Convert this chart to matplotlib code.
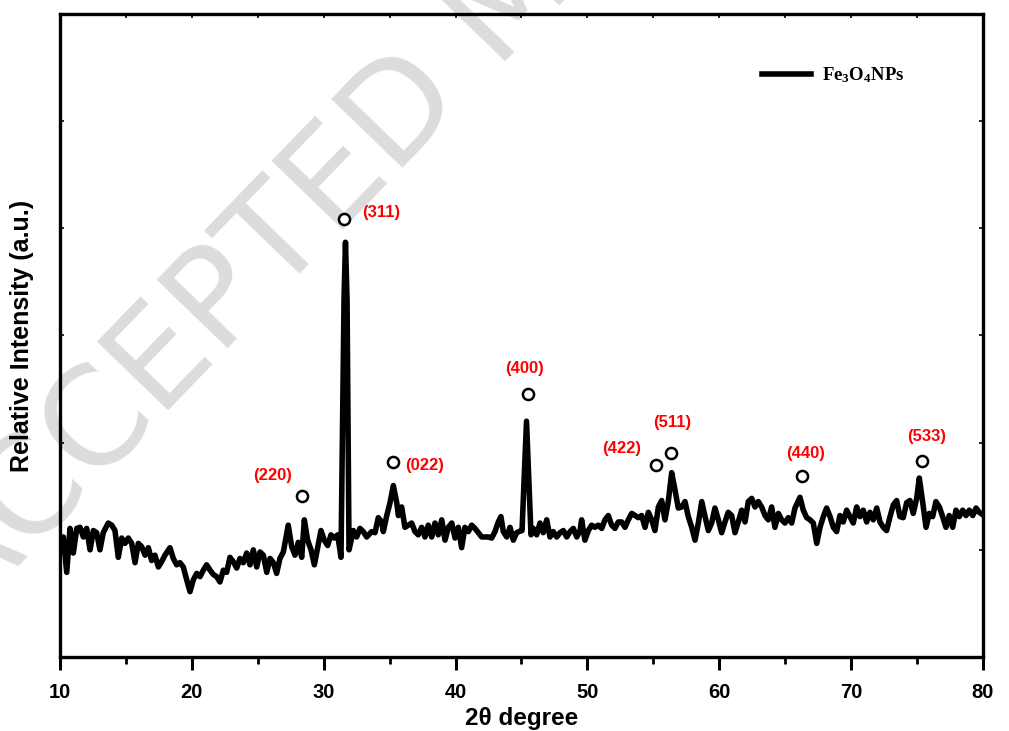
import matplotlib
matplotlib.use("Agg")
import matplotlib.pyplot as plt
from matplotlib.ticker import MultipleLocator

# ---------------- data ----------------
two_theta = [10.00, 10.25, 10.51, 10.76, 11.01, 11.27, 11.52, 11.77, 12.02, 12.28, 12.53, 12.78, 13.03, 13.28,
             13.66, 13.92, 14.17, 14.42, 14.68, 14.93, 15.18, 15.44, 15.69, 15.94, 16.19, 16.45, 16.70, 16.95,
             17.20, 17.46, 17.71, 17.96, 18.34, 18.59, 18.85, 19.10, 19.35, 19.61, 19.86, 20.11, 20.37, 20.62,
             20.87, 21.12, 21.38, 21.63, 21.88, 22.13, 22.39, 22.64, 22.89, 23.14, 23.40, 23.65, 23.90, 24.16,
             24.41, 24.66, 24.92, 25.17, 25.42, 25.68, 25.93, 26.18, 26.43, 26.68, 26.94, 27.31, 27.57, 27.82,
             28.07, 28.33, 28.53, 28.78, 29.04, 29.29, 29.54, 29.79, 30.04, 30.30, 30.55, 30.80, 31.06, 31.31,
             31.54, 31.65, 31.77, 31.92, 32.25, 32.50, 32.75, 33.00, 33.26, 33.64, 33.89, 34.14, 34.40, 34.52,
             34.78, 35.03, 35.28, 35.54, 35.66, 35.91, 36.16, 36.42, 36.67, 36.92, 37.17, 37.43, 37.68, 37.93,
             38.19, 38.44, 38.69, 38.95, 39.20, 39.45, 39.71, 39.96, 40.21, 40.46, 40.71, 40.97, 41.22, 41.47,
             41.72, 41.98, 42.23, 42.48, 42.74, 42.99, 43.24, 43.44, 43.62, 43.88, 44.13, 44.38, 44.63, 44.81,
             45.04, 45.23, 45.38, 45.53, 45.72, 45.89, 46.15, 46.40, 46.65, 46.91, 47.16, 47.41, 47.67, 47.92,
             48.17, 48.43, 48.68, 48.93, 49.19, 49.44, 49.56, 49.81, 50.07, 50.32, 50.57, 50.82, 51.08, 51.33,
             51.58, 51.84, 52.09, 52.34, 52.60, 52.85, 53.10, 53.36, 53.61, 53.86, 54.11, 54.37, 54.62, 54.87,
             55.12, 55.38, 55.63, 55.88, 56.13, 56.39, 56.64, 56.89, 57.15, 57.40, 57.65, 57.91, 58.16, 58.41,
             58.67, 58.92, 59.17, 59.42, 59.67, 59.93, 60.18, 60.43, 60.68, 60.94, 61.19, 61.44, 61.70, 61.95,
             62.20, 62.46, 62.71, 62.96, 63.21, 63.47, 63.72, 63.97, 64.22, 64.48, 64.73, 64.98, 65.23, 65.49,
             65.74, 66.12, 66.37, 66.63, 66.88, 67.13, 67.39, 67.64, 67.89, 68.14, 68.40, 68.65, 68.90, 69.15,
             69.40, 69.66, 69.91, 70.16, 70.42, 70.67, 70.92, 71.18, 71.43, 71.68, 71.94, 72.19, 72.44, 72.69,
             72.95, 73.20, 73.45, 73.70, 73.95, 74.21, 74.46, 74.71, 74.97, 75.17, 75.43, 75.68, 75.93, 76.18,
             76.43, 76.69, 76.94, 77.19, 77.44, 77.70, 77.95, 78.20, 78.46, 78.71, 78.96, 79.22, 79.47, 79.72,
             79.95]
intensity = [103, 112, 79, 120, 97, 120, 121, 112, 120, 100, 118, 116, 100, 116,
             125, 123, 118, 93, 111, 106, 111, 106, 88, 106, 103, 95, 102, 90,
             95, 84, 89, 95, 102, 92, 86, 88, 84, 72, 61, 72, 78, 75,
             81, 86, 81, 77, 75, 70, 81, 79, 93, 89, 83, 92, 88, 97,
             86, 100, 84, 98, 95, 79, 92, 88, 78, 92, 98, 123, 103, 95,
             107, 93, 128, 109, 100, 86, 102, 118, 109, 104, 114, 111, 114, 93,
             333, 387, 333, 100, 118, 112, 120, 117, 112, 117, 116, 130, 126, 117,
             132, 144, 160, 144, 132, 140, 121, 123, 125, 117, 114, 121, 112, 123,
             112, 125, 114, 128, 109, 121, 125, 111, 121, 102, 121, 117, 123, 120,
             116, 112, 112, 112, 111, 117, 126, 131, 117, 112, 121, 109, 116, 117,
             118, 174, 220, 174, 114, 120, 114, 125, 116, 128, 112, 117, 112, 116,
             118, 112, 117, 120, 112, 118, 128, 109, 118, 123, 121, 123, 120, 128,
             132, 123, 120, 126, 126, 121, 128, 134, 132, 130, 132, 121, 135, 128,
             118, 140, 146, 128, 145, 172, 156, 139, 140, 145, 131, 121, 109, 125,
             145, 131, 118, 125, 139, 128, 116, 126, 135, 132, 116, 126, 137, 126,
             145, 148, 140, 145, 140, 132, 128, 140, 121, 134, 128, 125, 130, 125,
             139, 149, 137, 130, 128, 125, 106, 121, 131, 139, 131, 121, 117, 132,
             126, 137, 131, 125, 140, 131, 137, 126, 135, 128, 139, 126, 121, 118,
             131, 142, 146, 131, 130, 144, 146, 134, 148, 167, 144, 121, 134, 131,
             145, 140, 131, 121, 132, 121, 137, 131, 137, 132, 137, 132, 139, 135,
             133]

# peak markers (open circles) and Miller index labels
marker_x = [31.54, 28.35, 35.25, 45.49, 55.20, 56.34, 66.27, 75.37]
marker_y = [409, 150, 182, 245, 179, 190, 169, 183]
hkl_labels = ["(311)", "(220)", "(022)", "(400)", "(422)", "(511)", "(440)", "(533)"]
label_x = [34.34, 26.15, 37.68, 45.19, 52.62, 56.41, 66.58, 75.75]
label_y = [415, 169, 179, 269, 195, 219, 190, 206]

x_ticks = [10, 20, 30, 40, 50, 60, 70, 80]

# ---------------- style ----------------
plt.rcParams['font.family'] = ['Liberation Sans', 'DejaVu Sans']
plt.rcParams['font.weight'] = 'bold'
plt.rcParams['mathtext.fontset'] = 'custom'
plt.rcParams['mathtext.rm'] = 'Liberation Serif:bold'
plt.rcParams['mathtext.bf'] = 'Liberation Serif:bold'
plt.rcParams['mathtext.it'] = 'Liberation Serif:bold'

fig = plt.figure(figsize=(10.09, 7.31), dpi=100)
ax = fig.add_axes([60/1009, 1-657/731, 923/1009, 643/731])
ax.patch.set_facecolor('none')
ax.set_zorder(1)

# watermark
fig.text(-0.035, 0.15, "ACCEPTED MANUSCRIPT", rotation=46, rotation_mode='anchor',
         ha='left', va='baseline', fontsize=98, color='#dcdcdc', fontweight='normal',
         family='DejaVu Sans', zorder=0)

ax.plot(two_theta, intensity, color='black', lw=4.0, solid_joinstyle='round',
        label=r'Fe$_{3}$O$_{4}$NPs')
ax.plot(marker_x, marker_y, linestyle='none', marker='o', markersize=8,
        markerfacecolor='white', markeredgecolor='black', markeredgewidth=1.8)
for t, lx, ly in zip(hkl_labels, label_x, label_y):
    ax.text(lx, ly, t, color='red', fontsize=12, fontweight='bold',
            ha='center', va='center')

ax.set_xlim(10, 80)
ax.set_ylim(0, 600)
ax.set_xticks(x_ticks)
ax.xaxis.set_minor_locator(MultipleLocator(5))
ax.yaxis.set_major_locator(MultipleLocator(100))
ax.set_yticklabels([])
ax.tick_params(axis='x', which='major', direction='out', length=9, width=2.2,
               labelsize=14.5, pad=10, top=False)
ax.tick_params(axis='x', which='minor', direction='out', length=5, width=2.0, top=False)
ax.tick_params(axis='y', which='major', direction='in', length=3, width=1.2,
               left=True, right=True, labelleft=False)
# top spine small inward ticks
secx = ax.secondary_xaxis('top')
secx.set_xticks([15, 20, 25, 30, 35, 40, 45, 50, 55, 60, 65, 70, 75])
secx.tick_params(direction='in', length=3, width=1.2, labeltop=False)
secx.spines['top'].set_visible(False)

for s in ax.spines.values():
    s.set_linewidth(2.4)

ax.set_xlabel("2θ degree", fontsize=17.5, fontweight='bold', labelpad=3)
ax.set_ylabel("Relative Intensity (a.u.)", fontsize=18, fontweight='bold', labelpad=19)

leg = ax.legend(loc='center left', bbox_to_anchor=((762-60)/923, (657-75)/643),
                frameon=False, borderpad=0, borderaxespad=0, handlelength=2.6,
                handletextpad=0.6, prop={'family': 'Liberation Serif', 'weight': 'bold', 'size': 13.5})

fig.savefig("out.png", dpi=100)
